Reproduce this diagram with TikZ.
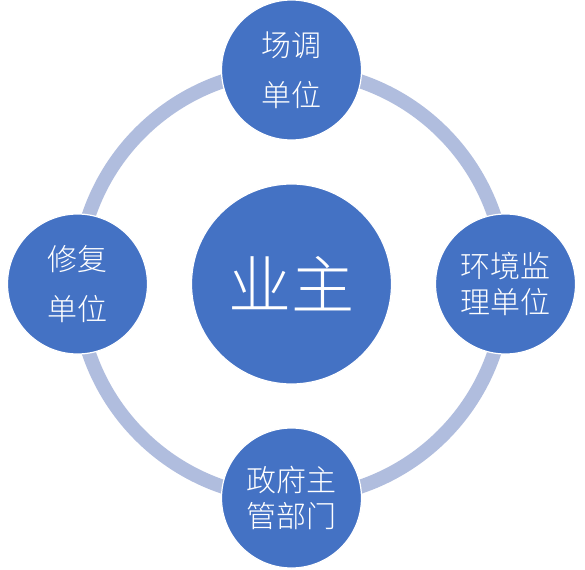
\documentclass[tikz,border=0pt]{standalone}
\usepackage{fontspec}
\newfontfamily\cjk{Noto Sans CJK SC Light}
\usepackage{tikz}
\definecolor{ringblue}{RGB}{176,189,222}
\definecolor{ballblue}{RGB}{68,114,196}
\tikzset{
  ball/.style={draw=white, line width=1.2pt, fill=ballblue, circle, inner sep=0pt,
    minimum size=140pt, text=white, align=center},
  twoline/.style={font=\cjk\fontsize{30}{50}\selectfont},
  threeline/.style={font=\cjk\fontsize{30}{36}\selectfont}
}

\begin{document}
\begin{tikzpicture}[x=1pt, y=-1pt]
  \useasboundingbox[fill=white] (0,0) rectangle (585,569);
  \coordinate (mid) at (291.5,284);
  \draw[ringblue, line width=14pt] (mid) circle (214);
  \node (owner) at (mid) [ball, minimum size=200pt, font=\cjk\fontsize{63}{63}\selectfont] {业主};
  \node (survey) at (291.5,70) [ball, twoline] {场调\\单位};
  \node (monitor) at (505.5,284) [ball, threeline] {环境监\\理单位};
  \node (gov) at (291.5,498) [ball, threeline] {政府主\\管部门};
  \node (repair) at (77.5,284) [ball, twoline] {修复\\单位};
\end{tikzpicture}
\end{document}
